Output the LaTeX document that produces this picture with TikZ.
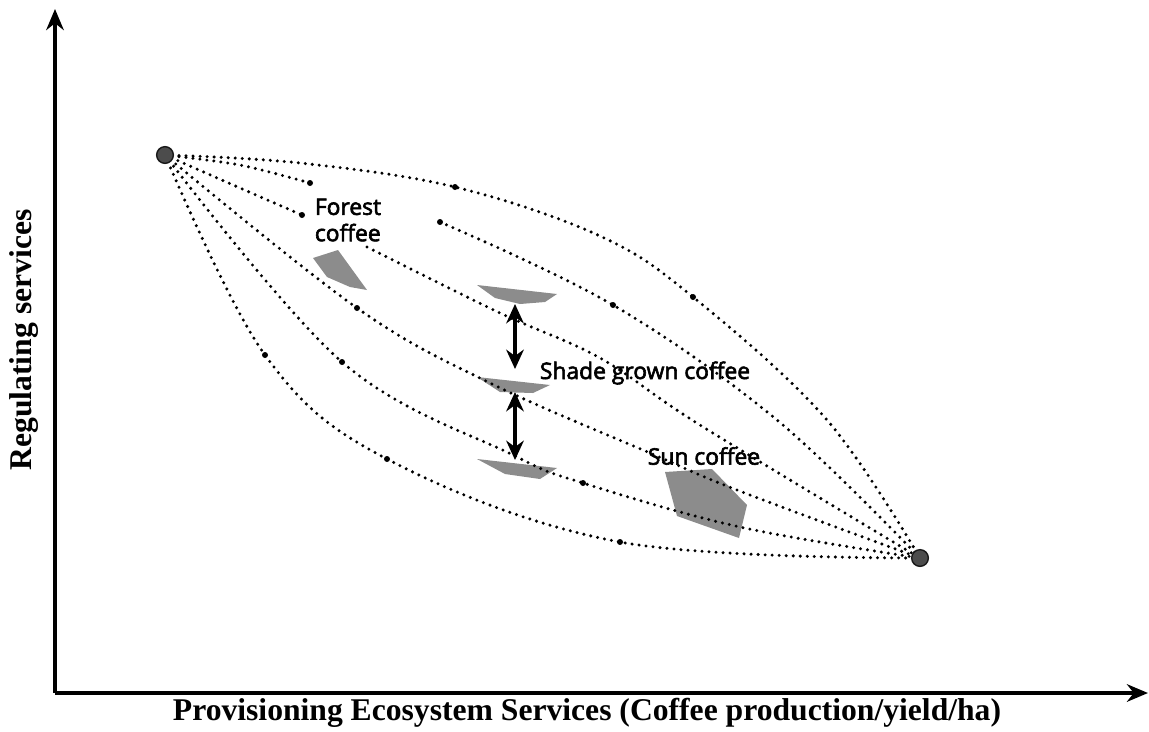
\documentclass[tikz,border=0pt]{standalone}
\usepackage{fontspec}
\setmainfont{Liberation Serif}
\newfontfamily\plotfont{Open Sans}[FakeBold=2.6]
\usetikzlibrary{arrows.meta}

\begin{document}
\begin{tikzpicture}[x=0.02cm, y=-0.02cm, >=Stealth,
    trail/.style={black, line width=1.9pt, line cap=round, dash pattern=on 0pt off 4pt},
    endpoint/.style={circle, fill=black!70, draw=black!90, thick, inner sep=0pt, minimum size=9.5pt},
    patch/.style={fill=black!45},
    tag/.style={font=\plotfont\fontsize{13}{15}\selectfont, text=black, inner sep=0pt},
    axis/.style={line width=2.3pt, -{Stealth[length=12pt,width=10pt]}},
    shiftarrow/.style={line width=2.5pt, {Stealth[length=11pt,width=10pt]}-{Stealth[length=11pt,width=10pt]}},
    axislabel/.style={font=\bfseries\fontsize{18}{21}\selectfont}]
  \useasboundingbox (0,0) rectangle (1149,731);

  % axes
  \coordinate (origin) at (55,693);
  \coordinate (ytip) at (55,9);
  \coordinate (xtip) at (1148,693);
  \draw[axis] (origin) -- (ytip);
  \draw[axis] (origin) -- (xtip);
  \node[axislabel, rotate=90] (ylab) at (24,340) {Regulating services};
  \node[axislabel] (xlab) at (587,713) {Provisioning Ecosystem Services (Coffee production/yield/ha)};

  % grey patches for the three systems
  \fill[patch] (313,258) -- (338,250) -- (367,290) -- (350,287) -- (327,277) -- cycle;
  \fill[patch] (477,285) -- (557,294) -- (545,302) -- (520,304) -- (495,298) -- cycle;
  \fill[patch] (477,377) -- (550,385) -- (533,393) -- (500,392) -- cycle;
  \fill[patch] (477,459) -- (557,468) -- (540,479) -- (505,474) -- cycle;
  \fill[patch] (665,472) -- (712,469) -- (747,505) -- (739,538) -- (677,516) -- cycle;

  \coordinate (lo) at (165,155);
  \coordinate (hi) at (920,558);

  % dotted trade-off curves
  \draw[trail] plot[smooth, tension=0.6] coordinates {(lo) (300,163) (455,187) (600,236) (693,297) (827,420) (hi)};
  \draw[trail] plot[smooth] coordinates {(lo) (240,165) (310,183)};
  \draw[trail] plot[smooth, tension=0.6] coordinates {(440,222) (613,305) (777,420) (hi)};
  \draw[trail] plot[smooth] coordinates {(lo) (240,188) (302,215)};
  \draw[trail] plot[smooth, tension=0.6] coordinates {(367,247) (500,313) (600,358) (700,425) (hi)};
  \draw[trail] plot[smooth, tension=0.6] coordinates {(lo) (357,308) (490,383) (650,453) (737,490) (hi)};
  \draw[trail] plot[smooth, tension=0.6] coordinates {(lo) (342,362) (513,455) (583,483) (740,527) (hi)};
  \draw[trail] plot[smooth, tension=0.6] coordinates {(lo) (265,355) (387,459) (620,542) (hi)};

  \foreach \p in {(455,187), (693,297), (310,183), (440,222), (613,305), (302,215), (357,308), (342,362), (583,483), (265,355), (387,459), (620,542)}
    \fill \p circle (3);

  \node[endpoint] (start) at (lo) {};
  \node[endpoint] (finish) at (hi) {};

  % labels
  \node[tag, align=left] (forest) at (348,220) {Forest\\coffee};
  \node[tag] (shade) at (645,373) {Shade grown coffee};
  \node[tag] (sun) at (704,456) {Sun coffee};

  % shifts between shade levels
  \coordinate (top) at (515,304);
  \coordinate (mid1) at (515,369);
  \coordinate (mid2) at (515,392);
  \coordinate (low) at (515,460);
  \draw[shiftarrow] (top) -- (mid1);
  \draw[shiftarrow] (mid2) -- (low);
\end{tikzpicture}
\end{document}
